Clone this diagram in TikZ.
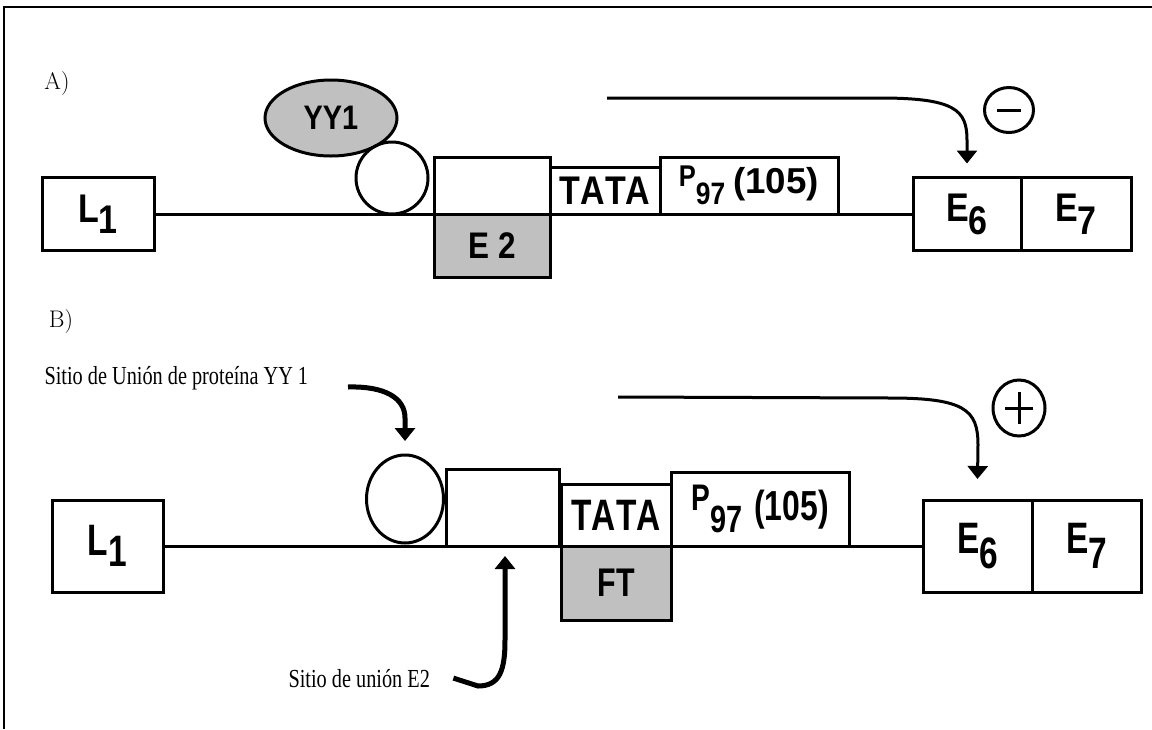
\documentclass[tikz,border=0pt]{standalone}
\usepackage{graphicx}
\usepackage{fontspec}
\newfontfamily\genefont{Liberation Sans}[FakeStretch=0.85, Kerning=Off]
\newfontfamily\genefontB{Liberation Sans}[FakeStretch=0.76, Kerning=Off]
\newfontfamily\notefont{Liberation Serif}[FakeStretch=0.78]
\usetikzlibrary{positioning, arrows.meta, shapes.geometric}
\definecolor{boxgray}{RGB}{192,192,192}
\newcommand{\genesub}[2][13pt]{\raisebox{-#1}{#2}}
\newcommand{\pnumA}{\raisebox{7pt}{\fontsize{30}{32}\selectfont P}%
  \raisebox{-11pt}{\fontsize{31}{32}\selectfont 97}\hspace{8pt}%
  \scalebox{1.2}[1]{\fontsize{36}{40}\selectfont (105)}}
\newcommand{\pnumB}{\raisebox{10pt}{\fontsize{37}{38}\selectfont P}%
  \raisebox{-12pt}{\fontsize{38}{40}\selectfont 97}\hspace{12pt}%
  {\fontsize{42}{46}\selectfont (105)}}

\begin{document}
\begin{tikzpicture}[x=1pt, y=-1pt, line width=3pt,
    >={Triangle[width=20pt,length=13pt]},
    gene/.style={draw, line width=3pt, inner sep=0pt, outer sep=0pt,
      font=\genefont\bfseries\fontsize{40}{44}\selectfont},
    geneB/.style={gene, font=\genefontB\bfseries\fontsize{44}{48}\selectfont},
    shaded/.style={fill=boxgray},
    site/.style={draw, ellipse, line width=3pt, inner sep=0pt, outer sep=0pt},
    note/.style={inner sep=0pt, anchor=base west, font=\notefont\fontsize{26}{30}\selectfont},
    panel/.style={inner sep=0pt, font=\fontsize{24}{28}\selectfont},
    signal/.style={->, line width=3pt},
    curl/.style={->, line width=5pt}]
    \useasboundingbox (0,0) rectangle (1152,729);
    \draw[line width=2.5pt] (4,729) -- (4,7) -- (1152,7);

    % A) promotor reprimido
    \node[panel] (labA) at (57,84) {A)};
    \node[gene, minimum width=112pt, minimum height=73pt] (L1A) at (98,214) {L\genesub[11pt]{1}};
    \node[site, fill=boxgray, minimum width=132pt, minimum height=76pt,
      font=\genefont\bfseries\fontsize{34}{38}\selectfont] (YY1) at (331,118) {YY1};
    \node[site, minimum size=72pt] (ringA) at (392,178) {};
    \node[gene, minimum width=116pt, minimum height=57pt, anchor=south west] (siteA) at (434,214) {};
    \node[gene, shaded, minimum width=116pt, minimum height=63pt, below=0pt of siteA,
      font=\genefont\bfseries\fontsize{37}{40}\selectfont] (E2A) {E 2};
    \node[gene, minimum width=110pt, minimum height=47pt, anchor=south west] (TATAA) at (siteA.south east) {TATA};
    \node[gene, minimum width=178pt, minimum height=57pt, anchor=south west] (P97A) at (TATAA.south east) {\pnumA};
    \node[gene, minimum width=108pt, minimum height=73pt] (E6A) at (967,214) {E\genesub{6}};
    \node[gene, minimum width=110pt, minimum height=73pt, right=0pt of E6A] (E7A) {E\genesub{7}};
    \node[site, minimum width=49pt, minimum height=45pt] (minus) at (1009,110) {};
    \coordinate (sigA) at (607,98);

    \draw (L1A.east) -- (E6A.west);
    \draw ([xshift=-12pt]minus.center) -- ([xshift=12pt]minus.center);
    \draw[signal] (sigA) -- (880,98) .. controls (955,98) and (967,110) .. (967,140)
      -- ([yshift=14pt]E6A.north);

    % B) promotor activado
    \node[panel] (labB) at (61,322) {B)};
    \node[note] (yylab) at (43,384) {Sitio de Unión de proteína YY 1};
    \node[geneB, minimum width=111pt, minimum height=92pt] (L1B) at (107.5,546) {L\genesub[11pt]{1}};
    \node[site, minimum width=77pt, minimum height=88pt] (ringB) at (405,499) {};
    \node[gene, minimum width=113pt, minimum height=77pt, anchor=south west] (siteB) at (446,546) {};
    \node[geneB, minimum width=110pt, minimum height=62pt, anchor=south west] (TATAB) at (561,546) {TATA};
    \node[geneB, shaded, minimum width=110pt, minimum height=74pt, below=0pt of TATAB,
      font=\genefontB\bfseries\fontsize{40}{44}\selectfont] (FTB) {FT};
    \node[geneB, minimum width=178pt, minimum height=74pt, anchor=south west] (P97B) at (TATAB.south east) {\pnumB};
    \node[geneB, minimum width=109pt, minimum height=92pt] (E6B) at (977.5,546) {E\genesub[15pt]{6}};
    \node[geneB, minimum width=109pt, minimum height=92pt, right=0pt of E6B] (E7B) {E\genesub[15pt]{7}};
    \node[site, minimum width=52pt, minimum height=56pt] (plus) at (1019,408) {};
    \node[note] (e2lab) at (287,687) {Sitio de unión E2};
    \coordinate (sigB) at (618,397);
    \coordinate (yyfrom) at (348,387);
    \coordinate (e2site) at (505,556);

    \draw (L1B.east) -- (E6B.west);
    \draw ([xshift=-14pt]plus.center) -- ([xshift=14pt]plus.center)
          ([yshift=-16pt]plus.center) -- ([yshift=16pt]plus.center);
    \draw[signal] (sigB) -- (890,398) .. controls (965,398) and (978,410) .. (978,445)
      -- ([yshift=21pt]E6B.north);
    \draw[curl] (yyfrom) .. controls (385,386) and (405,398) .. (405,418)
      -- ([yshift=14pt]ringB.north);
    \draw[curl] ([xshift=22pt]e2lab.east) -- (478,686) .. controls (500,686) and (505,670) .. (505,640)
      -- (e2site);
\end{tikzpicture}
\end{document}
